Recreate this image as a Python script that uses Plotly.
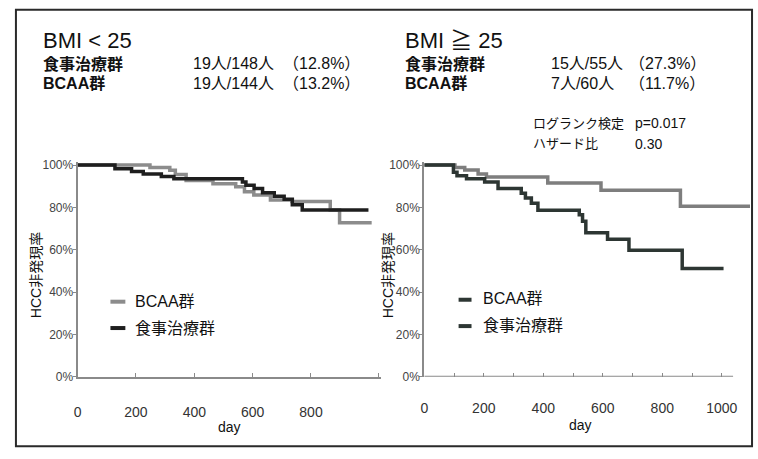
import plotly.graph_objects as go

# ---------------- data ----------------
left_bcaa_days = [0, 248, 316, 335, 372, 464, 542, 572, 604, 661, 735, 866, 898, 1008]
left_bcaa_surv = [100, 98.8, 97.5, 95.5, 92.7, 91.2, 89.7, 87.4, 85.9, 83.5, 82.8, 78.8, 72.7, 72.7]

left_diet_days = [0, 128, 185, 225, 287, 330, 565, 577, 605, 634, 674, 708, 736, 770, 997]
left_diet_surv = [100, 98.3, 97.0, 95.8, 94.6, 93.5, 92.0, 90.5, 88.9, 86.9, 85.3, 83.8, 81.2, 78.8, 78.8]

right_bcaa_days = [0, 103, 136, 181, 209, 415, 594, 861, 1095]
right_bcaa_surv = [100, 98.9, 97.7, 95.8, 94.3, 91.5, 88.1, 80.5, 80.5]

right_diet_days = [0, 98, 110, 142, 203, 248, 326, 340, 360, 382, 521, 532, 543, 616, 688, 867, 1006]
right_diet_surv = [100, 96.6, 95.0, 93.5, 92.0, 88.9, 86.7, 84.4, 82.0, 78.7, 76.5, 73.5, 68.0, 65.0, 59.8, 51.1, 51.1]

y_ticks = [0, 20, 40, 60, 80, 100]
y_ticktext = ["0%", "20%", "40%", "60%", "80%", "100%"]
left_x_ticks = [0, 200, 400, 600, 800, 1030]
left_x_ticktext = ["0", "200", "400", "600", "800", ""]
right_x_ticks = [0, 100, 200, 300, 400, 500, 600, 700, 800, 900, 1000]
right_x_ticktext = ["0", "", "200", "", "400", "", "600", "", "800", "", "1000"]

W, H = 758, 459
FONT = "Liberation Sans, Arial, Noto Sans CJK JP, sans-serif"


def px(x):
    return x / W


def py(y):
    return 1 - y / H


GRAY_L = "#8c8c8c"
DARK_L = "#1e1e1e"
GRAY_R = "#7e7e7e"
DARK_R = "#2d3633"
AXIS = "#8a8a8a"

fig = go.Figure()
fig.add_trace(go.Scatter(x=left_bcaa_days, y=left_bcaa_surv, mode="lines", line=dict(shape="hv", color=GRAY_L, width=3.5),
                         xaxis="x", yaxis="y", showlegend=False, name="BCAA群"))
fig.add_trace(go.Scatter(x=left_diet_days, y=left_diet_surv, mode="lines", line=dict(shape="hv", color=DARK_L, width=3.5),
                         xaxis="x", yaxis="y", showlegend=False, name="食事治療群"))
fig.add_trace(go.Scatter(x=right_bcaa_days, y=right_bcaa_surv, mode="lines", line=dict(shape="hv", color=GRAY_R, width=3.5),
                         xaxis="x2", yaxis="y2", showlegend=False, name="BCAA群"))
fig.add_trace(go.Scatter(x=right_diet_days, y=right_diet_surv, mode="lines", line=dict(shape="hv", color=DARK_R, width=3.5),
                         xaxis="x2", yaxis="y2", showlegend=False, name="食事治療群"))

ydom = [py(382), py(382 - 101.5 * 2.17)]

xcommon = dict(showgrid=False, zeroline=False, ticks="inside", ticklen=4, tickcolor=AXIS, tickwidth=1,
               tickfont=dict(family=FONT, size=14, color="#333"), ticklabelstandoff=21, fixedrange=True)
ycommon = dict(range=[0, 101.5], domain=ydom, showgrid=False, zeroline=False, showline=True, linecolor=AXIS,
               linewidth=2, ticks="outside", ticklen=3, tickcolor=AXIS, tickvals=y_ticks, ticktext=y_ticktext,
               tickfont=dict(family=FONT, size=12, color="#444"), ticklabelstandoff=-3, fixedrange=True)

fig.update_layout(
    width=W, height=H, margin=dict(l=0, r=0, t=0, b=0), autosize=False,
    paper_bgcolor="white", plot_bgcolor="white",
    xaxis=dict(domain=[px(74), px(379)], range=[0, 1040], anchor="y", showline=True, linecolor=AXIS, linewidth=2,
               tickvals=left_x_ticks, ticktext=left_x_ticktext, **xcommon),
    yaxis=dict(anchor="x", **ycommon),
    xaxis2=dict(domain=[px(422.5), px(750)], range=[0, 1095], anchor="y2", showline=False,
                tickvals=right_x_ticks, ticktext=right_x_ticktext, **xcommon),
    yaxis2=dict(anchor="x2", **ycommon),
)

shapes = [
    dict(type="rect", xref="paper", yref="paper", x0=px(12), x1=px(752), y0=py(453), y1=py(6),
         line=dict(color="#2a2a2a", width=2), fillcolor="rgba(0,0,0,0)"),
    dict(type="line", xref="x2", yref="y2", x0=0, x1=1038, y0=0, y1=0, line=dict(color=AXIS, width=2)),
    # legend swatches
    dict(type="line", xref="paper", yref="paper", x0=px(107), x1=px(122), y0=py(305), y1=py(305),
         line=dict(color=GRAY_L, width=4)),
    dict(type="line", xref="paper", yref="paper", x0=px(107), x1=px(122), y0=py(332), y1=py(332),
         line=dict(color=DARK_L, width=4)),
    dict(type="line", xref="paper", yref="paper", x0=px(457), x1=px(470), y0=py(303), y1=py(303),
         line=dict(color=DARK_R, width=4)),
    dict(type="line", xref="paper", yref="paper", x0=px(457), x1=px(470), y0=py(330), y1=py(330),
         line=dict(color=DARK_R, width=4)),
]
fig.update_layout(shapes=shapes)


def txt(x, y, s, size, bold=False, color="#111", family=FONT, xanchor="left", angle=0):
    if bold:
        s = "<b>" + s + "</b>"
    return dict(x=px(x), y=py(y), xref="paper", yref="paper", text=s, showarrow=False,
                xanchor=xanchor, yanchor="middle", textangle=angle,
                font=dict(family=family, size=size, color=color))


anns = [
    txt(37, 37, "BMI < 25", 22),
    txt(37, 61, "食事治療群", 16, bold=True),
    txt(37, 81, "BCAA群", 16, bold=True),
    txt(188, 61, "19人/148人", 16),
    txt(188, 81, "19人/144人", 16),
    txt(278, 61, "（12.8%）", 16),
    txt(278, 81, "（13.2%）", 16),
    txt(401, 37, "BMI ≧ 25", 22),
    txt(401, 61, "食事治療群", 16, bold=True),
    txt(401, 81, "BCAA群", 16, bold=True),
    txt(548, 61, "15人/55人", 16),
    txt(548, 81, "7人/60人", 16),
    txt(626, 61, "（27.3%）", 16),
    txt(626, 81, "（11.7%）", 16),
    txt(530, 122, "ログランク検定", 13),
    txt(632, 122, "p=0.017", 14),
    txt(530, 143, "ハザード比", 13),
    txt(632, 143, "0.30", 14),
    # legends
    txt(130, 305, "BCAA群", 16),
    txt(130, 332, "食事治療群", 16),
    txt(480, 302, "BCAA群", 16),
    txt(480, 329, "食事治療群", 16),
    # axis titles
    txt(227, 433, "day", 14, xanchor="center"),
    txt(580, 431, "day", 14, xanchor="center"),
    txt(33, 278, "HCC非発現率", 14, xanchor="center", angle=-90),
    txt(386, 278, "HCC非発現率", 14, xanchor="center", angle=-90),
]
fig.update_layout(annotations=anns)

fig.write_html(
    "out.html",
    config={"displayModeBar": False, "staticPlot": True},
    post_script="document.body.style.margin='0';document.documentElement.style.overflow='hidden';",
)
